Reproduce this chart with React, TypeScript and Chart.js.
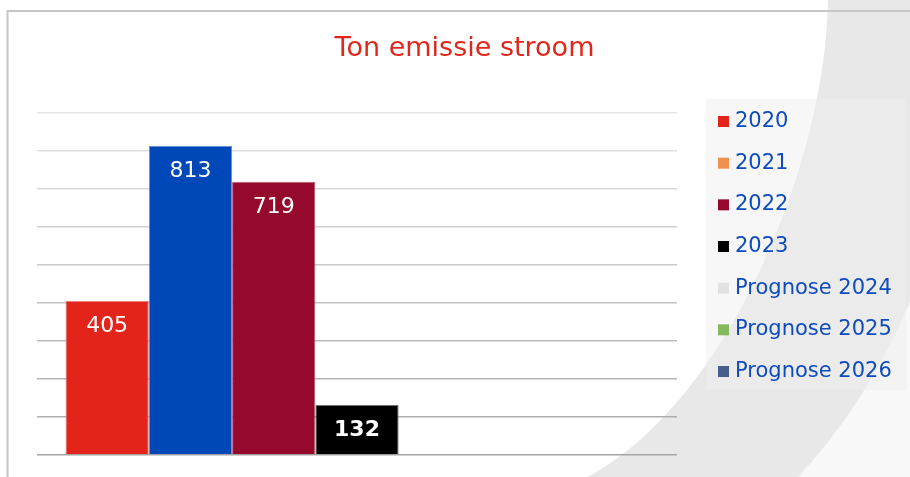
import React, { useEffect, useRef } from 'react';
import { Chart, registerables } from 'chart.js';

Chart.register(...registerables);

const chartTitle = 'Ton emissie stroom';
const categories = [''];
const seriesLabels = ['2020', '2021', '2022', '2023', 'Prognose 2024', 'Prognose 2025', 'Prognose 2026'];
const seriesValues: (number | null)[] = [405, 813, 719, 132, null, null, null];
const yMin = 0;
const yMax = 900;
const yStep = 100;

const barColors = ['#e2241a', '#0047b8', '#950a2c', '#000000', '#e0e0e0', '#86b85e', '#465e8c'];
const barBorders = ['#ee8079', '#6a8ed6', '#c25c78', '#7a7a7a', '#eeeeee', '#a8cf8a', '#7a8cb0'];
const legendColors = ['#e2241a', '#f0914f', '#950a2c', '#000000', '#e2e2e2', '#86b85e', '#465e8c'];
const boldLabels = [false, false, false, true, false, false, false];

const FONT = '"DejaVu Sans", Verdana, sans-serif';

const backgroundPlugin = {
  id: 'bgDecor',
  beforeDraw(chart: any) {
    const ctx = chart.ctx as CanvasRenderingContext2D;
    const W = chart.width;
    const H = chart.height;
    ctx.save();
    ctx.fillStyle = '#ffffff';
    ctx.fillRect(0, 0, W, H);
    // light region right of band
    ctx.fillStyle = '#f8f8f8';
    ctx.beginPath();
    ctx.moveTo(915, 290);
    ctx.quadraticCurveTo(870, 400, 798, H);
    ctx.lineTo(W, H);
    ctx.lineTo(W, 290);
    ctx.closePath();
    ctx.fill();
    // grey swoosh band
    ctx.fillStyle = '#e8e8e8';
    ctx.beginPath();
    ctx.moveTo(828, 0);
    ctx.lineTo(W, 0);
    ctx.lineTo(W, 290);
    ctx.lineTo(915, 290);
    ctx.quadraticCurveTo(870, 400, 798, H);
    ctx.lineTo(588, H);
    ctx.bezierCurveTo(730, 400, 826, 160, 828, 0);
    ctx.closePath();
    ctx.fill();
    // frame
    ctx.strokeStyle = '#c6c6c6';
    ctx.lineWidth = 2;
    ctx.beginPath();
    ctx.moveTo(7.5, H);
    ctx.lineTo(7.5, 11);
    ctx.lineTo(W, 11);
    ctx.stroke();
    ctx.restore();
  },
};

const valueLabelPlugin = {
  id: 'valueLabels',
  afterDatasetsDraw(chart: any) {
    const ctx = chart.ctx as CanvasRenderingContext2D;
    ctx.save();
    ctx.textAlign = 'center';
    ctx.textBaseline = 'middle';
    ctx.fillStyle = '#ffffff';
    chart.data.datasets.forEach((ds: any, i: number) => {
      const meta = chart.getDatasetMeta(i);
      meta.data.forEach((bar: any, j: number) => {
        const v = ds.data[j];
        if (v == null) return;
        ctx.font = `${boldLabels[i] ? 'bold ' : ''}22px ${FONT}`;
        ctx.fillText(String(v), bar.x, bar.y + 25.5);
      });
    });
    ctx.restore();
  },
};

const customLegendPlugin = {
  id: 'customLegend',
  afterDraw(chart: any) {
    const ctx = chart.ctx as CanvasRenderingContext2D;
    const area = chart.chartArea;
    const x0 = area.right + 29;
    const y0 = area.top - 14.5;
    const w = 200;
    const h = 291.5;
    const spacing = 41.67;
    ctx.save();
    ctx.fillStyle = 'rgba(238,238,238,0.48)';
    ctx.fillRect(x0, y0, w, h);
    ctx.font = `21px ${FONT}`;
    ctx.textAlign = 'left';
    ctx.textBaseline = 'middle';
    chart.data.datasets.forEach((ds: any, i: number) => {
      const cy = y0 + 23 + i * spacing;
      ctx.fillStyle = legendColors[i];
      ctx.fillRect(x0 + 12, cy - 5.5, 11, 11);
      ctx.fillStyle = '#0e4bbf';
      ctx.fillText(ds.label, x0 + 29, cy);
    });
    ctx.restore();
  },
};

function gridColor(value: number) {
  const t = (value - yMin) / (yMax - yMin);
  const c = Math.round(166 + t * (230 - 166));
  return `rgb(${c},${c},${c})`;
}

export default function App() {
  const canvasRef = useRef<HTMLCanvasElement | null>(null);

  useEffect(() => {
    if (!canvasRef.current) return;
    const chart = new Chart(canvasRef.current, {
      type: 'bar',
      data: {
        labels: categories,
        datasets: seriesLabels.map((label, i) => ({
          label,
          data: [seriesValues[i]],
          backgroundColor: barColors[i],
          borderColor: barBorders[i],
          borderWidth: 1,
          categoryPercentage: 0.911,
          barPercentage: 1.0,
        })),
      },
      options: {
        responsive: false,
        animation: false,
        layout: { padding: { left: 37, right: 18, top: 0, bottom: 22 } },
        plugins: {
          legend: { display: false },
          tooltip: { enabled: false },
          title: {
            display: true,
            text: chartTitle,
            color: '#e3261c',
            font: { family: FONT, size: 27, weight: 'normal', lineHeight: 1.2 },
            padding: { top: 32.5, bottom: 48.1 },
          },
        },
        scales: {
          x: {
            display: false,
            offset: true,
          },
          y: {
            position: 'left',
            min: yMin,
            max: yMax,
            ticks: { display: false, stepSize: yStep },
            border: { display: false },
            grid: {
              drawTicks: false,
              lineWidth: 1.5,
              color: (c: any) => gridColor(c.tick ? c.tick.value : 0),
            },
          },
          spacer: {
            type: 'linear',
            position: 'right',
            display: true,
            ticks: { display: false },
            border: { display: false },
            grid: { display: false, drawTicks: false },
            afterFit: (s: any) => {
              s.width = 215;
            },
          },
        },
      },
      plugins: [backgroundPlugin, valueLabelPlugin, customLegendPlugin],
    } as any);
    return () => chart.destroy();
  }, []);

  return (
    <div style={{ position: 'absolute', left: 0, top: 0, width: 910, height: 477 }}>
      <canvas ref={canvasRef} width={910} height={477} />
    </div>
  );
}
